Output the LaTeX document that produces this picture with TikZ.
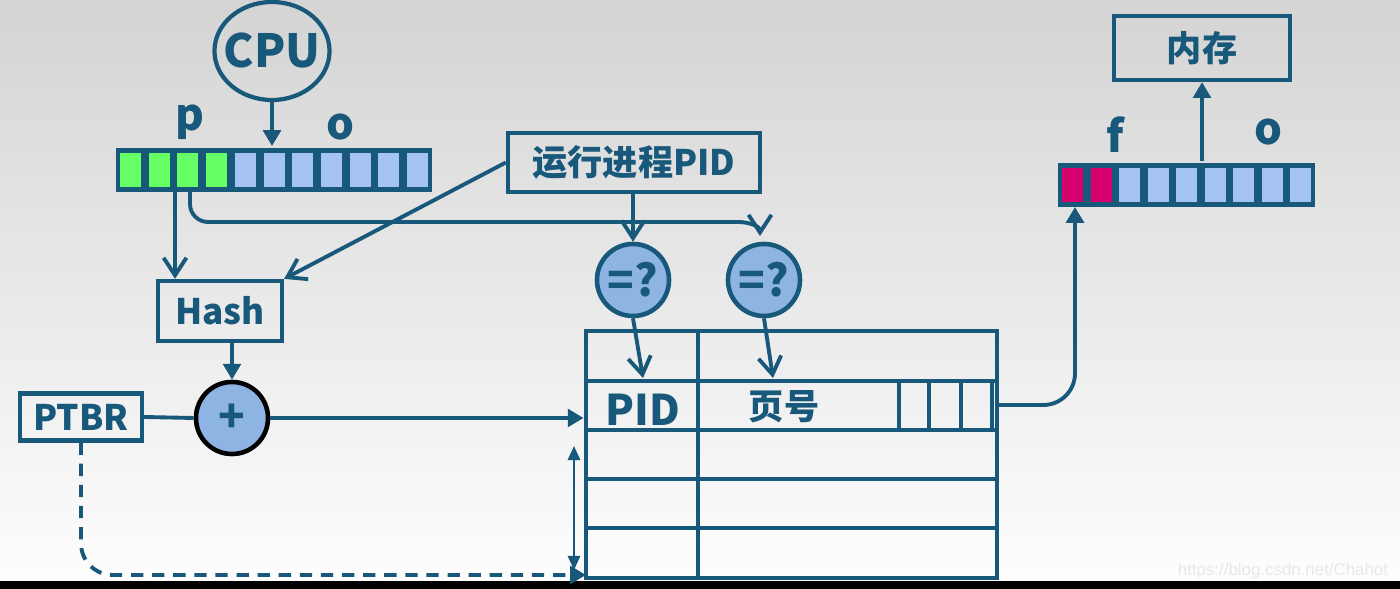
\documentclass[tikz,border=0pt]{standalone}
\usepackage{fontspec}
\setmainfont{Noto Sans CJK SC}
\newfontfamily\wmfont{Liberation Sans}
\usepackage{tikz}
\usetikzlibrary{arrows.meta, positioning, calc, shapes.geometric}

\definecolor{dblue}{RGB}{24,88,122}
\definecolor{lblue}{RGB}{164,194,244}
\definecolor{cgreen}{RGB}{102,255,102}
\definecolor{cmag}{RGB}{214,0,110}
\definecolor{cfill}{RGB}{141,180,226}

\begin{document}
\begin{tikzpicture}[
    x=0.01cm, y=-0.01cm,
    line width=1.1pt,
    draw=dblue,
    txt/.style={text=dblue, font=\bfseries\fontsize{10}{12}\selectfont, inner sep=0pt},
    big/.style={text=dblue, font=\bfseries\fontsize{12.5}{14}\selectfont, inner sep=0pt},
    box/.style={txt, draw=dblue, line width=1.2pt},
    cmp/.style={circle, draw=dblue, fill=cfill, line width=1.3pt, minimum size=0.72cm, big, inner sep=0pt},
    reg/.style={fill=dblue, minimum height=0.44cm, inner sep=0pt},
    tri/.style={draw=dblue, -{Triangle[length=4.5pt, width=5pt]}},
    barb/.style={draw=dblue, -{Straight Barb[length=5pt, width=6.5pt]}},
    dbl/.style={draw=dblue, line width=0.6pt, {Triangle[length=4pt, width=3.5pt]}-{Triangle[length=4pt, width=3.5pt]}}
]
    \useasboundingbox (0,0) rectangle (1400,589);

    % ==================== BACKGROUND ====================
    \shade[top color={rgb,255:red,212;green,212;blue,212}, middle color={rgb,255:red,228;green,228;blue,228},
           bottom color={rgb,255:red,254;green,254;blue,254}] (0,0) rectangle (1400,589);
    \fill[black] (0,581) rectangle (1400,589);
    \node[text=gray!18, font=\wmfont\fontsize{4.8}{6}\selectfont, anchor=east, inner sep=0pt] (wm) at (1390,571) {https://blog.csdn.net/Chahot};

    % ==================== LOGICAL ADDRESS ====================
    \node[ellipse, draw=dblue, line width=1.2pt, minimum width=1.15cm, minimum height=0.98cm, big, font=\bfseries\fontsize{13}{14}\selectfont] (cpu) at (272,51) {\makebox[0pt]{CPU}};
    \node[big] (lp) at (190,122) {p};
    \node[big] (lo) at (340,127) {o};
    \node[reg, minimum width=3.16cm] (reg1) at (274,170) {};
    \foreach \i in {0,...,3}
        \fill[cgreen] (120+\i*28.7,153) rectangle ++(21,34);
    \foreach \i in {4,...,10}
        \fill[lblue] (120+\i*28.7,153) rectangle ++(21,34);
    \coordinate (pa) at (175,192);
    \coordinate (pb) at (190,192);

    % ==================== HASH + PTBR ====================
    \node[box, minimum width=2.52cm, minimum height=0.59cm] (pid) at (634,162.5) {运行进程PID};
    \node[box, minimum width=1.24cm, minimum height=0.60cm] (hash) at (220,311) {Hash};
    \node[box, minimum width=1.22cm, minimum height=0.47cm] (ptbr) at (81,417) {PTBR};
    \node[cmp, draw=black] (plus) at (232,418) {+};
    \node[cmp] (eq1) at (633,280) {=?};
    \node[cmp] (eq2) at (764,280) {=?};
    \coordinate (e2) at (760,236);

    % ==================== INVERTED PAGE TABLE ====================
    \node[draw=dblue, line width=1.3pt, minimum width=4.11cm, minimum height=2.47cm, inner sep=0pt] (tbl) at (791.5,454.5) {};
    \foreach \y in {381,430,479,528}
        \draw[line width=1.3pt] (586,\y) -- (997,\y);
    \draw[line width=1.3pt] (698,331) -- (698,578);
    \foreach \x in {899,929,961,992}
        \draw[line width=1.3pt] (\x,381) -- (\x,430);
    \node[big, font=\bfseries\fontsize{12}{14}\selectfont] (tpid) at (643,410) {PID};
    \node[txt] (tpage) at (784,407) {页号};
    \coordinate (t1) at (643,378);
    \coordinate (t2) at (773,378);
    \coordinate (rowout) at (997,405);
    \coordinate (da) at (574,446);
    \coordinate (db) at (574,570);
    \coordinate (dend) at (586,575);

    % ==================== PHYSICAL ADDRESS ====================
    \node[reg, minimum width=2.57cm] (reg2) at (1186.5,185) {};
    \foreach \i in {0,1}
        \fill[cmag] (1062+\i*28.56,168) rectangle ++(21,34);
    \foreach \i in {2,...,8}
        \fill[lblue] (1062+\i*28.56,168) rectangle ++(21,34);
    \node[big] (lf) at (1115,135) {f};
    \node[big] (lo2) at (1268,132) {o};
    \node[box, minimum width=1.76cm, minimum height=0.64cm] (mem) at (1202,48) {内存};
    \coordinate (fin) at (1075,207);

    % ==================== CONNECTORS ====================
    \draw[tri] (cpu.south) -- (cpu.south |- reg1.north);
    \draw[barb] (pa) -- (pa |- hash.north);
    \draw[barb] (pb) -- (190,204) to[out=-90, in=180] (208,222) -- (738,222) to[out=0, in=90] (e2);
    \draw[barb] (pid.west) -- (hash.north east);
    \draw[barb] (pid.south -| eq1.north) -- (eq1.north);
    \draw[barb] (eq1.south) -- (t1);
    \draw[barb] (eq2.south) -- (t2);
    \draw[tri] (hash.south -| plus.north) -- (plus.north);
    \draw (ptbr.east) -- (plus.west);
    \draw[tri] (plus.east) -- (plus.east -| tbl.west);
    \draw[tri, dash pattern=on 3.5pt off 2.5pt, rounded corners=9pt] (ptbr.south) |- (dend);
    \draw[dbl] (da) -- (db);
    \draw[tri, rounded corners=9pt] (rowout) -| (fin);
    \draw[tri] (mem.south |- reg2.north) -- (mem.south);
\end{tikzpicture}
\end{document}
